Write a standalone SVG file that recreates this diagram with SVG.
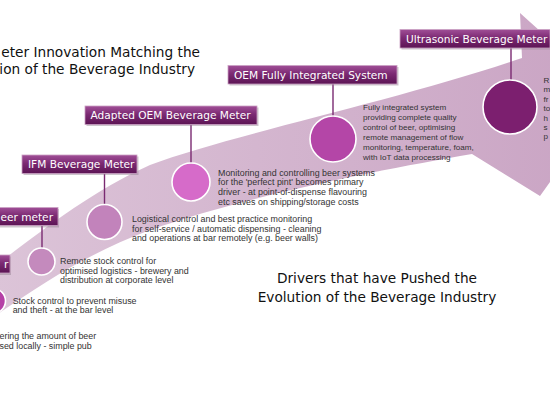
<svg xmlns="http://www.w3.org/2000/svg" width="550" height="412" viewBox="0 0 550 412">
<defs>
<linearGradient id="bandGrad" x1="0" y1="0" x2="1" y2="0">
<stop offset="0" stop-color="#dcc4d8"/>
<stop offset="1" stop-color="#c9a3c3"/>
</linearGradient>
<linearGradient id="labelGrad" x1="0" y1="0" x2="0" y2="1">
<stop offset="0" stop-color="#a04f97"/>
<stop offset="0.45" stop-color="#7c2a73"/>
<stop offset="1" stop-color="#5c1454"/>
</linearGradient>
</defs>
<style>
.lbl{fill:url(#labelGrad);stroke:#caa1c4;stroke-width:0.8}
.shd{fill:#8f7f8c;opacity:0.45}
.lt{font-family:"DejaVu Sans",Verdana,sans-serif;font-size:10.6px;fill:#ffffff}
.body{font-family:"Liberation Sans",Arial,sans-serif;font-size:8.9px;fill:#333333}
.small{font-size:8.1px}
.title{font-family:"DejaVu Sans",Verdana,sans-serif;font-size:13.7px;fill:#111111}
.dot{stroke:#ffffff;stroke-width:1.6}
.conn{stroke:#7a2a71;stroke-width:1.4;fill:none}
</style>
<rect width="550" height="412" fill="#ffffff"/>
<g id="arrow">
<path d="M -5,266 C 40,232 90,192 150,165 C 230,135 400,100 522,58 L 520,13 L 612,96 L 540,196 L 472,154 C 380,170 250,195 150,230 C 90,252 40,285 -5,316 Z" fill="url(#bandGrad)"/>
</g>
<g id="title-top">
<text class="title" x="200" y="56.7" text-anchor="end">eter Innovation Matching the</text>
<text class="title" x="195" y="74" text-anchor="end">ion of the Beverage Industry</text>
</g>
<g id="title-bottom">
<text class="title" x="377" y="283" text-anchor="middle">Drivers that have Pushed the</text>
<text class="title" x="377" y="301.5" text-anchor="middle">Evolution of the Beverage Industry</text>
</g>
<g id="connectors">
<path class="conn" d="M42,225.5 V248"/>
<path class="conn" d="M104.5,173.5 V204.5"/>
<path class="conn" d="M191,124.5 V163"/>
<path class="conn" d="M333,84 V116"/>
<path class="conn" d="M511,48 V80"/>
</g>
<g id="stage-basic">
<text class="body" x="-0.5" y="339"><tspan x="-0.5" y="339">ering the amount of beer</tspan><tspan x="-0.5" y="348.7">sed locally - simple pub</tspan></text>
</g>
<g id="stage-r">
<rect class="shd" x="-40" y="256.5" width="51" height="18.5"/>
<rect class="lbl" x="-41" y="255" width="51" height="18"/>
<text class="lt" x="8.3" y="268.3" text-anchor="end">r</text>
<circle class="dot" cx="-7" cy="301" r="12.5" fill="#b540a6"/>
<text class="body" x="12.7" y="303.7"><tspan x="12.7" y="303.7">Stock control to prevent misuse</tspan><tspan x="12.7" y="313.3">and theft - at the bar level</tspan></text>
</g>
<g id="stage-beer-meter">
<rect class="shd" x="-19" y="209" width="78" height="18.5"/>
<rect class="lbl" x="-20" y="207.5" width="78" height="18"/>
<text class="lt" x="53" y="220.7" text-anchor="end">eer meter</text>
<circle class="dot" cx="41.5" cy="261.5" r="13.5" fill="#c48abd"/>
<text class="body" x="60" y="264"><tspan x="60" y="264">Remote stock control for</tspan><tspan x="60" y="273.7">optimised logistics - brewery and</tspan><tspan x="60" y="283.3">distribution at corporate level</tspan></text>
</g>
<g id="stage-ifm">
<rect class="shd" x="23.5" y="156.5" width="115" height="18.5"/>
<rect class="lbl" x="22" y="155" width="115" height="18.5"/>
<text class="lt" x="28" y="168.3">IFM Beverage Meter</text>
<circle class="dot" cx="104.5" cy="222" r="17.5" fill="#c283bb"/>
<text class="body" x="132" y="222"><tspan x="132" y="222">Logistical control and best practice monitoring</tspan><tspan x="132" y="231.7">for self-service / automatic dispensing - cleaning</tspan><tspan x="132" y="241.3">and operations at bar remotely (e.g. beer walls)</tspan></text>
</g>
<g id="stage-adapted-oem">
<rect class="shd" x="86.5" y="107.5" width="172" height="18.5"/>
<rect class="lbl" x="85" y="106" width="172" height="18.5"/>
<text class="lt" x="90.5" y="119.3">Adapted OEM Beverage Meter</text>
<circle class="dot" cx="191" cy="182" r="19" fill="#d66bc9"/>
<text class="body" x="218" y="175.7"><tspan x="218" y="175.7">Monitoring and controlling beer systems</tspan><tspan x="218" y="185.3">for the 'perfect pint' becomes primary</tspan><tspan x="218" y="195">driver - at point-of-dispense flavouring</tspan><tspan x="218" y="204.7">etc saves on shipping/storage costs</tspan></text>
</g>
<g id="stage-oem-integrated">
<rect class="shd" x="229.5" y="67" width="169" height="18.5"/>
<rect class="lbl" x="228" y="65.5" width="169" height="18.5"/>
<text class="lt" x="234" y="78.8">OEM Fully Integrated System</text>
<circle class="dot" cx="333" cy="139" r="23" fill="#b446a7"/>
<text class="body small" x="363" y="109.7"><tspan x="363" y="109.7">Fully integrated system</tspan><tspan x="363" y="119.8">providing complete quality</tspan><tspan x="363" y="129.9">control of beer, optimising</tspan><tspan x="363" y="140">remote management of flow</tspan><tspan x="363" y="150.1">monitoring, temperature, foam,</tspan><tspan x="363" y="160.2">with IoT data processing</tspan></text>
</g>
<g id="stage-ultrasonic">
<rect class="shd" x="401.5" y="31" width="150" height="18.5"/>
<rect class="lbl" x="400" y="29.5" width="150" height="18.5"/>
<text class="lt" x="406" y="42.8">Ultrasonic Beverage Meter</text>
<circle class="dot" cx="510" cy="107" r="27" fill="#7c1f6f"/>
<text class="body small" x="543.5" y="83"><tspan x="543.5" y="83">R</tspan><tspan x="543.5" y="92.4">m</tspan><tspan x="543.5" y="101.8">fr</tspan><tspan x="543.5" y="111.2">to</tspan><tspan x="543.5" y="120.6">h</tspan><tspan x="543.5" y="130">s</tspan><tspan x="543.5" y="139.4">p</tspan></text>
</g>
</svg>
